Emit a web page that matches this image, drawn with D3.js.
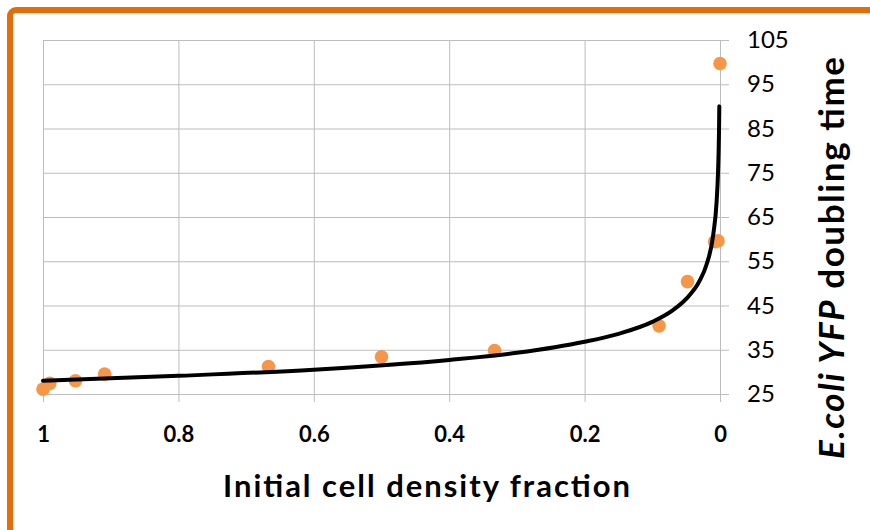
<!DOCTYPE html>
<html>
<head>
<meta charset="utf-8">
<script src="https://cdn.jsdelivr.net/npm/d3@7"></script>
<style>
  html, body { margin: 0; padding: 0; background: #fff; }
  svg { display: block; font-family: Lato, "Open Sans", sans-serif; }
</style>
</head>
<body>
<svg id="chart" width="870" height="530"></svg>
<script>
// Measured points
const densityFraction = [1.0, 0.99, 0.952, 0.909, 0.667, 0.5, 0.333, 0.09, 0.048, 0.008, 0.003, 0.0];
const doublingTime    = [26.1, 27.4, 28.0, 29.5, 31.2, 33.4, 34.8, 40.4, 50.4, 59.4, 59.6, 99.7];

// Trend line
const trendX = [1, 0.8, 0.6, 0.4, 0.3, 0.2, 0.15, 0.1, 0.07, 0.05, 0.03, 0.02, 0.01, 0.005, 0.003, 0.002, 0.0015, 0.001];
const trendY = [28.0, 29.1, 30.5, 32.7, 34.3, 36.8, 38.6, 41.3, 43.9, 46.5, 50.6, 54.2, 61.0, 68.5, 74.7, 80.0, 84.0, 90.0];

// Ticks
const xTicks = [1, 0.8, 0.6, 0.4, 0.2, 0];
const xTickLabels = ["1", "0.8", "0.6", "0.4", "0.2", "0"];
const yTicks = [25, 35, 45, 55, 65, 75, 85, 95, 105];

const xTitle = "Initial cell density fraction";
const yTitleItalic = "E.coli YFP";
const yTitleRest = " doubling time";

const svg = d3.select("#chart");

// Orange frame
svg.append("rect")
  .attr("x", 10).attr("y", 10)
  .attr("width", 1000).attr("height", 700)
  .attr("rx", 6).attr("ry", 6)
  .attr("fill", "none")
  .attr("stroke", "#E46C0A")
  .attr("stroke-width", 6);

const x = d3.scaleLinear().domain([1, 0]).range([43, 720]);
const y = d3.scaleLinear().domain([25, 105]).range([394, 40]);

const gridColor = "#bdbdbd";

// Horizontal gridlines via right axis with long ticks
const yAxis = d3.axisRight(y)
  .tickValues(yTicks)
  .tickSize(-(x(0) - x(1)))
  .tickSizeOuter(0)
  .tickFormat(d3.format("d"));
const gy = svg.append("g").attr("transform", `translate(${x(0) + 9},0)`).call(yAxis);
gy.select(".domain").remove();
gy.selectAll(".tick line").attr("stroke", gridColor).attr("stroke-width", 1)
  .attr("x1", 0).attr("x2", -(x(0) - x(1)) - 9);
gy.selectAll(".tick text")
  .attr("x", 18)
  .attr("fill", "#000")
  .style("font-size", "24px")
  .style("font-family", "Lato, sans-serif")
  .attr("text-anchor", "start");

// Vertical gridlines via bottom axis
const xAxis = d3.axisBottom(x)
  .tickValues(xTicks)
  .tickSize(y(25) - y(105) + 8)
  .tickSizeOuter(0)
  .tickFormat((d, i) => xTickLabels[i]);
const gx = svg.append("g").attr("transform", `translate(0,${y(105)})`).call(xAxis);
gx.select(".domain").remove();
gx.selectAll(".tick line").attr("stroke", gridColor).attr("stroke-width", 1);
gx.selectAll(".tick text")
  .attr("y", y(25) - y(105) + 40)
  .attr("dy", "0.35em")
  .attr("fill", "#000")
  .style("font-size", "22px")
  .style("font-weight", "bold")
  .style("font-family", "Lato, sans-serif");

// Points
const pts = densityFraction.map((d, i) => ({ x: d, y: doublingTime[i] }));
svg.append("g").selectAll("circle").data(pts).join("circle")
  .attr("cx", d => x(d.x))
  .attr("cy", d => y(d.y))
  .attr("r", 6.8)
  .attr("fill", "#F79646");

// Trend line
const trend = trendX.map((d, i) => ({ x: d, y: trendY[i] }));
const line = d3.line().x(d => x(d.x)).y(d => y(d.y)).curve(d3.curveMonotoneX);
svg.append("path")
  .datum(trend)
  .attr("d", line)
  .attr("fill", "none")
  .attr("stroke", "#000")
  .attr("stroke-width", 4)
  .attr("stroke-linecap", "round");

// X title
svg.append("text")
  .attr("x", 426.5).attr("y", 497)
  .attr("text-anchor", "middle")
  .attr("textLength", 407)
  .attr("lengthAdjust", "spacing")
  .style("font-size", "31px")
  .style("font-weight", "bold")
  .style("font-family", "Lato, sans-serif")
  .attr("fill", "#000")
  .text(xTitle);

// Y title
const yt = svg.append("text")
  .attr("transform", "translate(844,258) rotate(-90)")
  .attr("text-anchor", "middle")
  .attr("textLength", 402)
  .attr("lengthAdjust", "spacing")
  .style("font-size", "35px")
  .style("font-weight", "bold")
  .style("font-family", "Lato, sans-serif")
  .attr("fill", "#000");
yt.append("tspan").style("font-style", "italic").text(yTitleItalic);
yt.append("tspan").text(yTitleRest);
</script>
</body>
</html>
